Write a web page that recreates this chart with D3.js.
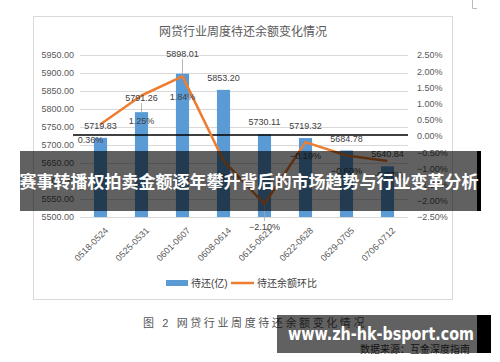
<!DOCTYPE html>
<html>
<head>
<meta charset="utf-8">
<style>
  body { margin: 0; background: #fff; }
  svg text { font-family: "Liberation Sans", "Noto Sans CJK SC", sans-serif; }
</style>
</head>
<body>
<script src="https://cdn.jsdelivr.net/npm/d3@7/dist/d3.min.js"></script>
<div id="chart"></div>
<script>
// data
var weeks = ["0518-0524", "0525-0531", "0601-0607", "0608-0614",
             "0615-0621", "0622-0628", "0629-0705", "0706-0712"];
var balance = [5719.83, 5791.26, 5898.01, 5853.20, 5730.11, 5719.32, 5684.78, 5640.84];
var change = [0.36, 1.25, 1.84, -0.76, -2.10, -0.19, -0.60, -0.77];
var leftTicks = [5500, 5550, 5600, 5650, 5700, 5750, 5800, 5850, 5900, 5950];
var rightTicks = [-2.5, -2.0, -1.5, -1.0, -0.5, 0, 0.5, 1.0, 1.5, 2.0, 2.5];

// label placement tweaks (px), like the excel labels were dragged
var valueLift = [12, 14, 20, 12, 12, 12, 12, 12];
var pctDrop = [16, 25, 20, 16, 23, 14, 15, 14];
var pctShift = [-10, 0, 0, 0, 0, 0, 0, 0];
var valueLeader = [1, 2];
var pctLeader = [4];

var W = 500, H = 362;
var plot = {left: 80, right: 408, top: 55, bottom: 217};

var svg = d3.select("#chart").append("svg")
    .attr("width", W).attr("height", H);

// chart frame
svg.append("rect")
    .attr("x", 33.5).attr("y", 16.5).attr("width", 419).attr("height", 283)
    .attr("fill", "#fff").attr("stroke", "#d9d9d9");

// little corner mark top right
svg.append("path")
    .attr("d", "M472.5,0 V8.5 H477")
    .attr("fill", "none").attr("stroke", "#bbb");

svg.append("text")
    .attr("x", 243).attr("y", 36)
    .attr("text-anchor", "middle")
    .style("font-size", "12px").attr("fill", "#595959")
    .text("网贷行业周度待还余额变化情况");

var x = d3.scaleBand().domain(weeks)
    .range([plot.left, plot.right]).paddingInner(0.68).paddingOuter(0.34);
var y = d3.scaleLinear().domain([5500, 5950]).range([plot.bottom, plot.top]);
var y2 = d3.scaleLinear().domain([-2.5, 2.5]).range([plot.bottom, plot.top]);
var cx = function(i) { return x(weeks[i]) + x.bandwidth() / 2; };

// gridlines
svg.append("g").selectAll("line").data(leftTicks).enter().append("line")
    .attr("x1", plot.left).attr("x2", plot.right)
    .attr("y1", function(d) { return Math.round(y(d)) + 0.5; })
    .attr("y2", function(d) { return Math.round(y(d)) + 0.5; })
    .attr("stroke", "#d9d9d9");

// left axis
var ax = svg.append("g")
    .attr("transform", "translate(" + (plot.left - 3) + ",0)")
    .call(d3.axisLeft(y).tickValues(leftTicks).tickSize(0).tickPadding(3)
      .tickFormat(d3.format(".2f")));
ax.select(".domain").remove();
ax.selectAll("text").style("font-size", "9px").attr("fill", "#595959");

// right axis
var ar = svg.append("g")
    .attr("transform", "translate(" + (plot.right + 6) + ",0)")
    .call(d3.axisRight(y2).tickValues(rightTicks).tickSize(0).tickPadding(3)
      .tickFormat(function(d) { return d3.format(".2f")(d) + "%"; }));
ar.select(".domain").remove();
ar.selectAll("text").style("font-size", "9px").attr("fill", "#595959");

// bars
svg.append("g").selectAll("rect").data(balance).enter().append("rect")
    .attr("x", function(d, i) { return x(weeks[i]); })
    .attr("y", function(d) { return y(d); })
    .attr("width", x.bandwidth())
    .attr("height", function(d) { return plot.bottom - y(d); })
    .attr("fill", "#5b9bd5");

// zero line of the right axis
svg.append("line")
    .attr("x1", 73).attr("x2", plot.right)
    .attr("y1", y2(0) - 1).attr("y2", y2(0) - 1)
    .attr("stroke", "#000").attr("stroke-width", 1.6);

// change line
var line = d3.line()
    .x(function(d, i) { return cx(i); })
    .y(function(d) { return y2(d); });
svg.append("path").datum(change)
    .attr("d", line)
    .attr("fill", "none").attr("stroke", "#ed7d31")
    .attr("stroke-width", 2.5).attr("stroke-linejoin", "round");

// leader lines
valueLeader.forEach(function(i) {
  svg.append("line")
    .attr("x1", cx(i)).attr("x2", cx(i))
    .attr("y1", y(balance[i]) - valueLift[i] + 5).attr("y2", y(balance[i]))
    .attr("stroke", "#a6a6a6").attr("stroke-width", 0.8);
});
pctLeader.forEach(function(i) {
  svg.append("line")
    .attr("x1", cx(i)).attr("x2", cx(i))
    .attr("y1", y2(change[i])).attr("y2", y2(change[i]) + pctDrop[i] - 6)
    .attr("stroke", "#a6a6a6").attr("stroke-width", 0.8);
});

// value labels
svg.append("g").selectAll("text").data(balance).enter().append("text")
    .attr("x", function(d, i) { return cx(i); })
    .attr("y", function(d, i) { return y(d) - valueLift[i]; })
    .attr("dy", "0.35em").attr("text-anchor", "middle")
    .style("font-size", "9px").attr("fill", "#404040")
    .text(function(d) { return d3.format(".2f")(d); });

svg.append("g").selectAll("text").data(change).enter().append("text")
    .attr("x", function(d, i) { return cx(i) + pctShift[i]; })
    .attr("y", function(d, i) { return y2(d) + pctDrop[i]; })
    .attr("dy", "0.35em").attr("text-anchor", "middle")
    .style("font-size", "9px").attr("fill", "#404040")
    .text(function(d) { return d3.format(".2f")(d) + "%"; });

// x labels, slanted
svg.append("g").selectAll("text").data(weeks).enter().append("text")
    .attr("transform", function(d, i) {
      return "translate(" + (cx(i) + 6) + ",229) rotate(-45)";
    })
    .attr("text-anchor", "end").attr("dy", "0.35em")
    .style("font-size", "9px").attr("fill", "#595959")
    .text(function(d) { return d; });

// legend
svg.append("rect").attr("x", 166).attr("y", 280).attr("width", 22).attr("height", 6)
    .attr("fill", "#5b9bd5");
svg.append("text").attr("x", 191).attr("y", 283).attr("dy", "0.35em")
    .style("font-size", "10px").attr("fill", "#404040").text("待还(亿)");
svg.append("line").attr("x1", 231).attr("x2", 254).attr("y1", 283).attr("y2", 283)
    .attr("stroke", "#ed7d31").attr("stroke-width", 2.5);
svg.append("text").attr("x", 257).attr("y", 283).attr("dy", "0.35em")
    .style("font-size", "10px").attr("fill", "#404040").text("待还余额环比");

// caption under the chart
svg.append("text").attr("x", 143).attr("y", 323).attr("dy", "0.35em")
    .style("font-size", "11px").style("letter-spacing", "2.6px")
    .attr("fill", "#555").text("图 2 网贷行业周度待还余额变化情况");
svg.append("text").attr("x", 360).attr("y", 349).attr("dy", "0.35em")
    .style("font-size", "10px").attr("fill", "#333").text("数据来源：互金深度指南");

// overlay banners
svg.append("rect").attr("x", 20).attr("y", 151).attr("width", 458).attr("height", 60)
    .attr("fill", "#000").attr("opacity", 0.62);
svg.append("rect").attr("x", 477).attr("y", 151).attr("width", 4).attr("height", 60)
    .attr("fill", "#000");
svg.append("text").attr("x", 249).attr("y", 182).attr("dy", "0.35em")
    .attr("text-anchor", "middle")
    .style("font-family", "'Noto Sans CJK SC', sans-serif")
    .style("font-size", "17px").style("font-weight", "bold").attr("fill", "#fff")
    .text("赛事转播权拍卖金额逐年攀升背后的市场趋势与行业变革分析");

svg.append("rect").attr("x", 277).attr("y", 315).attr("width", 200).attr("height", 38)
    .attr("fill", "#000").attr("opacity", 0.62);
svg.append("rect").attr("x", 477).attr("y", 315).attr("width", 14).attr("height", 38)
    .attr("fill", "#000");
svg.append("text").attr("x", 381).attr("y", 334).attr("dy", "0.35em")
    .attr("text-anchor", "middle")
    .style("font-family", "'DejaVu Sans', sans-serif")
    .style("font-size", "17px").style("font-weight", "bold").attr("fill", "#fff")
    .attr("textLength", 186).attr("lengthAdjust", "spacingAndGlyphs")
    .text("www.zh-hk-bsport.com");
</script>
</body>
</html>
